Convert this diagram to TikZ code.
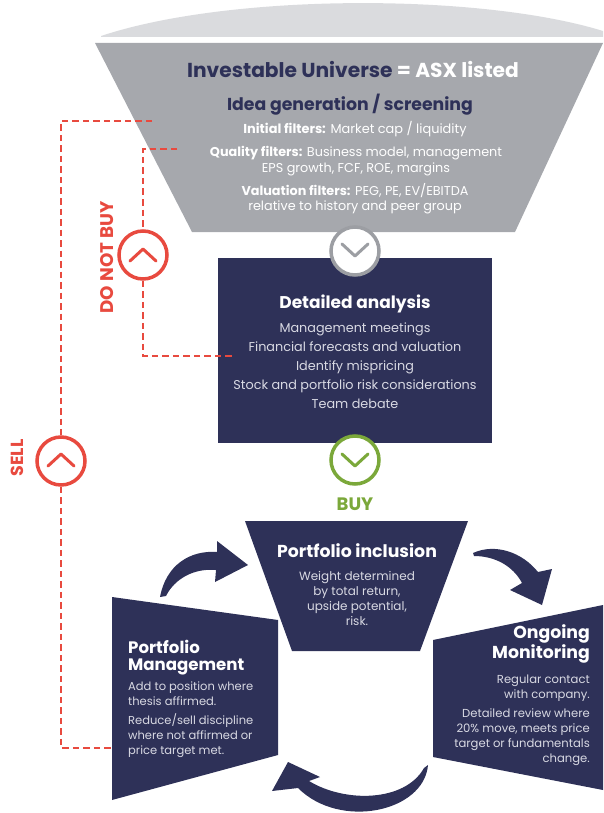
\documentclass[tikz,border=0pt]{standalone}
\usepackage{fontspec}
\setmainfont{Poppins}
\definecolor{navy}{HTML}{2E3158}
\definecolor{fgray}{HTML}{A6A8AD}
\definecolor{lgray}{HTML}{DADBDE}
\definecolor{cgray}{HTML}{9C9EA3}
\definecolor{redl}{HTML}{E84A3F}
\definecolor{greenl}{HTML}{7BA83A}
\definecolor{soft}{HTML}{D8D9E3}
\tikzset{
  redline/.style={draw=redl, line width=2.8pt, dash pattern=on 6.5pt off 4pt},
  ring/.style={circle, minimum size=48pt, inner sep=0pt, fill=white, line width=3.5pt},
  chev/.style={line width=3pt, line cap=round, line join=round},
  fsz/.style 2 args={font=\fontsize{#1}{#2}\selectfont},
  bsz/.style 2 args={font=\fontsize{#1}{#2}\selectfont\bfseries},
  txt/.style={inner sep=0pt},
}
\begin{document}
\begin{tikzpicture}[x=1pt,y=-1pt]
\useasboundingbox (0,0) rectangle (603,813);

% top lens and funnel
\fill[lgray] (101,36) .. controls (230,-7) and (480,-7) .. (603,31) -- (603,37) -- (101,37) -- cycle;
\fill[fgray] (95,43) -- (603,43) -- (515,232) -- (192,232) -- cycle;

% detailed analysis box
\node[fill=navy, minimum width=274pt, minimum height=185pt, inner sep=0pt] (da) at (355,350.5) {};

% bottom shapes
\fill[navy] (245,521) -- (468,521) -- (420,651) -- (292,651) -- cycle;
\fill[navy] (112,597) -- (278,620) -- (278,755) -- (112,800) -- cycle;
\fill[navy] (433,640) -- (603,605) -- (603,790) -- (433,757) -- cycle;

% curved arrows
\fill[navy] (160,597) .. controls (166,565) and (190,550) .. (217,552) -- (217,541) -- (248,565) -- (215,582) -- (216,570) .. controls (195,568) and (175,578) .. (166,596) -- cycle;
\fill[navy] (473,553) .. controls (495,543) and (522,552) .. (538,572) -- (552,569) -- (542,605) -- (510,590) -- (522,583) .. controls (513,566) and (495,556) .. (474,556) -- cycle;
\fill[navy] (428,765) .. controls (424,812) and (340,830) .. (298,788) -- (272,791) -- (288,762) -- (320,777) -- (309,781) .. controls (345,803) and (405,802) .. (424,768) -- cycle;

% circles
\node[ring, draw=cgray] (gc) at (355,251) {};
\draw[chev, cgray] (342,244) -- (355,256) -- (368,244);
\node[ring, draw=greenl] (grc) at (355,460) {};
\draw[chev, greenl] (342,454) -- (355,466) -- (368,454);
\node[ring, draw=redl] (dnb) at (143,255) {};
\draw[chev, redl] (130,261) -- (143,249) -- (156,261);
\node[ring, draw=redl] (sell) at (61,461) {};
\draw[chev, redl] (48,466) -- (61,454) -- (74,466);

% red dashed loops
\coordinate (sellA) at (152,121);
\coordinate (pmL) at (112,748);
\coordinate (dnbA) at (177,149);
\coordinate (daL) at (232,356);
\draw[redline] (sellA) -| (sell.north);
\draw[redline] (sell.south) |- (pmL);
\draw[redline] (dnbA) -| (dnb.north);
\draw[redline] (dnb.south) |- (daL);

% side labels
\node[txt, rotate=90, text=redl, bsz={18.3}{18}] (dnbl) at (107.5,257.5) {DO NOT BUY};
\node[txt, rotate=90, text=redl, bsz={17.5}{18}] (selll) at (17.5,458) {SELL};

% funnel text
\node[txt, anchor=base, text=white, bsz={20.2}{22}] (t1) at (353,78) {\textcolor{navy}{Investable Universe} = ASX listed};
\node[txt, anchor=base, text=navy, bsz={17.3}{20}] (t2) at (350,111) {Idea generation / screening};
\node[txt, anchor=base, text=white, fsz={12.9}{16}] (f1) at (355,134) {\textbf{Initial filters:} Market cap / liquidity};
\node[txt, anchor=base, text=white, fsz={12.8}{16}, align=center] (f2) at (356,172) {\textbf{Quality filters:} Business model, management\\EPS growth, FCF, ROE, margins};
\node[txt, anchor=base, text=white, fsz={12.8}{15}, align=center] (f3) at (355,211) {\textbf{Valuation filters:} PEG, PE, EV/EBITDA\\relative to history and peer group};

% detailed analysis text
\node[txt, anchor=base, text=white, bsz={17}{20}] (dat) at (355,308) {Detailed analysis};
\node[txt, anchor=base, text=soft, fsz={12.8}{19}, align=center] (dab) at (355,408) {Management meetings\\Financial forecasts and valuation\\Identify mispricing\\Stock and portfolio risk considerations\\Team debate};

\node[txt, anchor=base, text=greenl, bsz={18}{20}] (buy) at (355,510) {BUY};

% inclusion
\node[txt, anchor=base, text=white, bsz={17.3}{20}] (pit) at (357,557) {Portfolio inclusion};
\node[txt, anchor=base, text=soft, fsz={12}{14.7}, align=center] (pib) at (357,625) {Weight determined\\by total return,\\upside potential,\\risk.};

% portfolio management
\node[txt, anchor=base west, text=white, bsz={16.6}{17}, align=left] (pmt) at (128,670) {Portfolio\\Management};
\node[txt, anchor=base west, text=soft, fsz={11.5}{15}, align=left] (pmb1) at (128,705) {Add to position where\\thesis affirmed.};
\node[txt, anchor=base west, text=soft, fsz={11.5}{15}, align=left] (pmb2) at (128,754) {Reduce/sell discipline\\where not affirmed or\\price target met.};

% ongoing monitoring
\node[txt, anchor=base east, text=white, bsz={17.3}{16}, align=right] (omt) at (590,658) {Ongoing\\Monitoring};
\node[txt, anchor=base east, text=soft, fsz={11.6}{15}, align=right] (omb1) at (590,698) {Regular contact\\with company.};
\node[txt, anchor=base east, text=soft, fsz={11.6}{15}, align=right] (omb2) at (590,762) {Detailed review where\\20\% move, meets price\\target or fundamentals\\change.};
\end{tikzpicture}
\end{document}
